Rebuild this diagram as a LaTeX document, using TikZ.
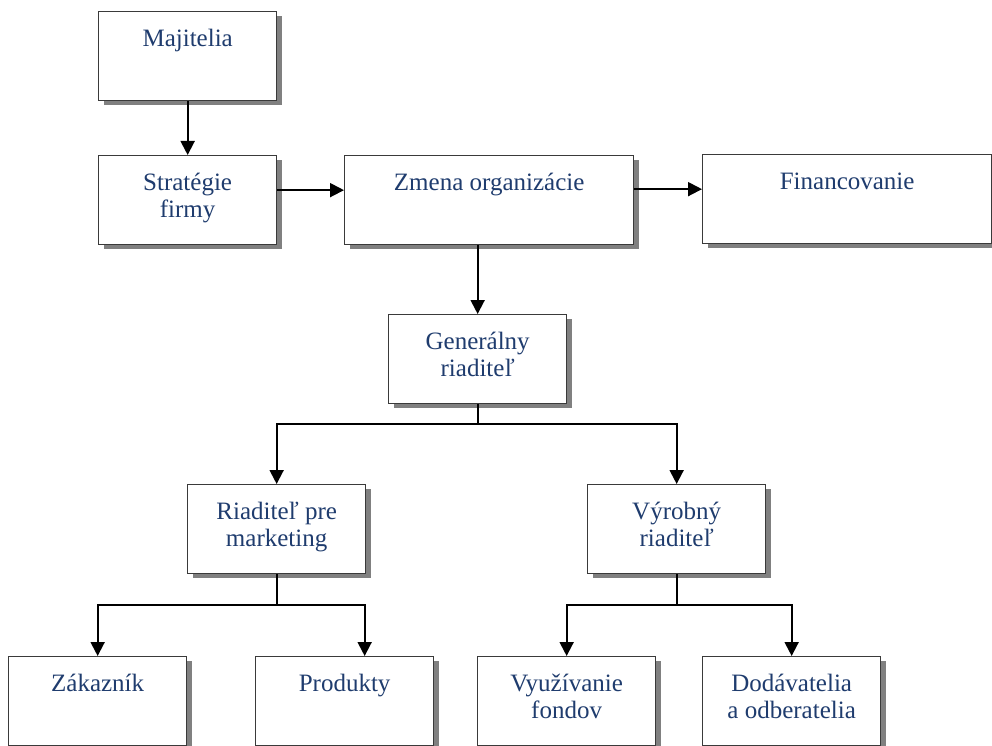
\documentclass[tikz,border=0pt]{standalone}
\usepackage{fontspec}
\setmainfont{Liberation Serif}
\usetikzlibrary{arrows.meta,shadows}
\definecolor{labelblue}{HTML}{1F3C6E}
\definecolor{framegray}{HTML}{3A3A3A}

\tikzset{
  orgbox/.style={draw=framegray, line width=1.3pt, fill=white, inner sep=0pt,
    anchor=north west, minimum width=178pt, minimum height=89pt,
    drop shadow={shadow xshift=5pt, shadow yshift=-4pt, fill=black!50, opacity=1}},
  widebox/.style={orgbox, minimum width=289pt},
  boxtext/.style={anchor=north, inner sep=0pt, align=center, text=labelblue,
    font=\fontsize{25}{27}\selectfont},
  link/.style={draw=black, line width=1.9pt},
  flow/.style={link, -{Triangle[width=14pt,length=14pt]}},
}

\begin{document}
\begin{tikzpicture}[x=1pt, y=-1pt]
\useasboundingbox (0,0) rectangle (992,746);

% boxes (top-left corners)
\node[orgbox]  (maj)  at (98,11)   {};
\node[orgbox]  (strat) at (98,155) {};
\node[widebox] (zmena) at (344,155) {};
\node[widebox] (fin)  at (702,154) {};
\node[orgbox]  (gen)  at (388,314) {};
\node[orgbox]  (rpm)  at (187,484) {};
\node[orgbox]  (vyr)  at (587,484) {};
\node[orgbox]  (zak)  at (8,656)   {};
\node[orgbox]  (prod) at (255,656) {};
\node[orgbox]  (vyuz) at (477,656) {};
\node[orgbox]  (dod)  at (702,656) {};

% labels, first baseline about 35pt below each box top
\node[boxtext] (majt)   at ([yshift=-16pt]maj.north)   {\strut Majitelia};
\node[boxtext] (stratt) at ([yshift=-16pt]strat.north) {\strut Stratégie\\\strut firmy};
\node[boxtext] (zment)  at ([yshift=-16pt]zmena.north) {\strut Zmena organizácie};
\node[boxtext] (fint)   at ([yshift=-16pt]fin.north)   {\strut Financovanie};
\node[boxtext] (gent)   at ([yshift=-16pt]gen.north)   {\strut Generálny\\\strut riaditeľ};
\node[boxtext] (rpmt)   at ([yshift=-16pt]rpm.north)   {\strut Riaditeľ pre\\\strut marketing};
\node[boxtext] (vyrt)   at ([yshift=-16pt]vyr.north)   {\strut Výrobný\\\strut riaditeľ};
\node[boxtext] (zakt)   at ([yshift=-16pt]zak.north)   {\strut Zákazník};
\node[boxtext] (prodt)  at ([yshift=-16pt]prod.north)  {\strut Produkty};
\node[boxtext] (vyuzt)  at ([yshift=-16pt]vyuz.north)  {\strut Využívanie\\\strut fondov};
\node[boxtext] (dodt)   at ([yshift=-16pt]dod.north)   {\strut Dodávatelia\\\strut a odberatelia};

% connectors
\coordinate (prodin) at ([xshift=20pt]prod.north);
\draw[flow] (maj.south) -- (strat.north);
\draw[flow] ([yshift=10pt]strat.east) -- ([yshift=10pt]strat.east -| zmena.west);
\draw[flow] ([yshift=11pt]zmena.east) -- ([yshift=11pt]zmena.east -| fin.west);
\draw[flow] (gen.north |- zmena.south) -- (gen.north);
\draw[flow] (gen.south) -- ++(0,20) -| (rpm.north);
\draw[flow] (gen.south) -- ++(0,20) -| (vyr.north);
\draw[flow] (rpm.south) -- ++(0,31) -| (zak.north);
\draw[flow] (rpm.south) -- ++(0,31) -| (prodin);
\draw[flow] (vyr.south) -- ++(0,31) -| (vyuz.north);
\draw[flow] (vyr.south) -- ++(0,31) -| (dod.north);
\end{tikzpicture}
\end{document}
